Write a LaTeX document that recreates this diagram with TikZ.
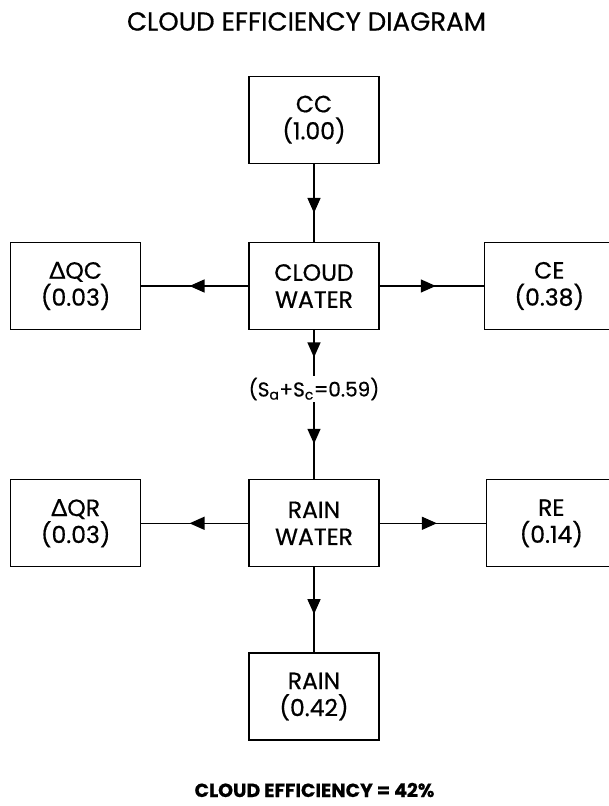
\documentclass[tikz,border=0pt]{standalone}
\usepackage{fontspec}
\setmainfont{Poppins}[FakeBold=0.6]
\newfontfamily\deltafont{Lato}[FakeBold=0.6]
\usetikzlibrary{arrows.meta,positioning,decorations.markings}

\begin{document}
\begin{tikzpicture}[
  x=1pt, y=1pt,
  font=\fontsize{23.5}{27}\selectfont,
  box/.style={draw, line width=1.3pt, align=center, minimum width=130pt, minimum height=87pt, inner sep=0pt},
  flow/.style={line width=1.3pt, postaction={decorate},
    decoration={markings, mark=at position #1 with {\arrow{Triangle[length=15pt,width=13pt]}}}},
  flow/.default=0.57,
]
\useasboundingbox (0,0) rectangle (609,806);
\node[font=\fontsize{26}{30}\selectfont] (title) at (306.5,784.5) {CLOUD EFFICIENCY DIAGRAM};
\node[box] (cwater) at (314,520) {CLOUD\\WATER};
\node[box, above=78pt of cwater] (cc) {CC\\(1.00)};
\node[box, left=107pt of cwater] (dqc) {{\deltafont Δ}QC\\(0.03)};
\node[box, right=104pt of cwater] (ce) {CE\\(0.38)};
\node[inner sep=2pt, font=\fontsize{20}{24}\selectfont] (sums) at (314,417) {(S\textsubscript{a}+S\textsubscript{c}=0.59)};
\node[box, below=149pt of cwater] (rwater) {RAIN\\WATER};
\node[box, left=107pt of rwater] (dqr) {{\deltafont Δ}QR\\(0.03)};
\node[box, right=106pt of rwater] (re) {RE\\(0.14)};
\node[box, below=85pt of rwater] (rain) {RAIN\\(0.42)};
\node[font=\bfseries\fontsize{19}{23}\selectfont, anchor=base, inner sep=0pt] (eff) at (314.5,9) {CLOUD EFFICIENCY = 42\%};
\draw[flow=0.63] (cc) -- (cwater);
\draw[flow=0.55] (cwater) -- (dqc);
\draw[flow=0.54] (cwater) -- (ce);
\draw[flow=0.6] (cwater) -- (sums);
\draw[flow=0.54] (sums) -- (rwater);
\draw[flow=0.55] (rwater) -- (dqr);
\draw[flow=0.54] (rwater) -- (re);
\draw[flow=0.55] (rwater) -- (rain);
\end{tikzpicture}
\end{document}
